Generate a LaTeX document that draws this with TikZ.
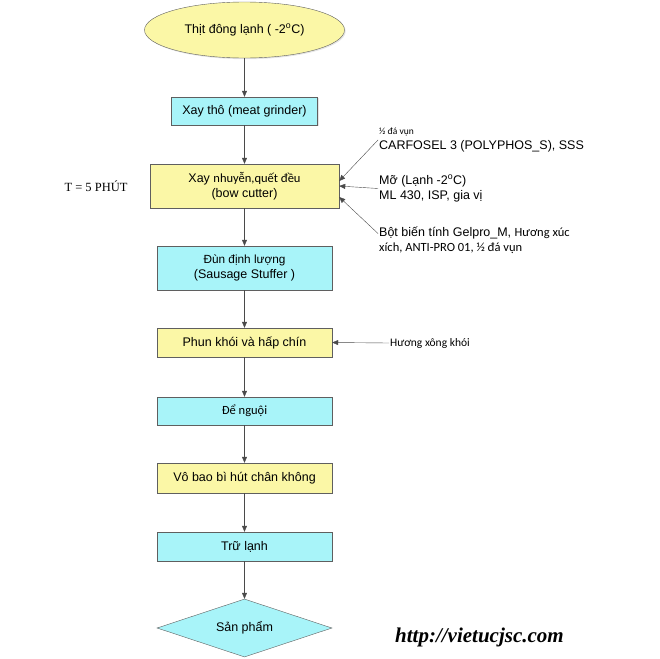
\documentclass[tikz,border=0pt]{standalone}
\usepackage{fontspec}
\setmainfont{Liberation Sans}
\newfontfamily\calibri{Carlito}
\newfontfamily\timesfont{Liberation Serif}
\usepackage{xcolor}
\usepackage{tikz}
\usetikzlibrary{arrows.meta}
\usetikzlibrary{shapes.geometric}
\usetikzlibrary{shadows}

\definecolor{boxcyan}{HTML}{A8F4F9}
\definecolor{boxyellow}{HTML}{FBF7A6}
\definecolor{edgegray}{HTML}{5F5F5F}
\definecolor{arrowgray}{HTML}{4A4A4A}

\begin{document}
\begin{tikzpicture}[
    x=1pt, y=-1pt, % Coordenadas en pixeles de la imagen
    font=\fontsize{12.5}{15}\selectfont, % Fuente de las etiquetas
    stepbox/.style={draw=edgegray, inner sep=0pt, align=center,
      minimum width=175pt, minimum height=29pt,
      drop shadow={shadow xshift=1.2pt, shadow yshift=-1.2pt, fill=black!20}}, % Cajas del proceso
    cyanbox/.style={stepbox, fill=boxcyan},
    yellowbox/.style={stepbox, fill=boxyellow},
    flow/.style={-{Triangle[length=6pt, width=5pt]}, draw=arrowgray, thin}, % Flechas
    addtext/.style={anchor=west, align=left, inner sep=1pt} % Textos de los aditivos
]
    \useasboundingbox (0,0) rectangle (659,659);

    % --- Pasos del proceso ---
    \node[ellipse, draw=edgegray, fill=boxyellow, minimum width=200pt, minimum height=56pt,
      drop shadow={shadow xshift=1.2pt, shadow yshift=-1.2pt, fill=black!20}]
      (frozen) at (244.5,30) {Thịt đông lạnh ( -2\textsuperscript{o}C)};
    \node[cyanbox, minimum width=146pt, minimum height=28pt] (grind) at (244.5,111) {Xay thô (meat grinder)};
    \node[yellowbox, minimum width=189pt, minimum height=44pt] (cutter) at (244.5,186)
      {Xay {\calibri nhuyễn,quết đều}\\(bow cutter)};
    \node[cyanbox, minimum height=44pt] (stuff) at (244.5,268)
      {{\fontsize{11.8}{15}\selectfont Đùn định lượng}\\(Sausage Stuffer )};
    \node[yellowbox] (smoke) at (244.5,342.5) {Phun khói và hấp chín};
    \node[cyanbox, minimum height=28pt] (cool) at (244.5,411) {\calibri Để nguội};
    \node[yellowbox, minimum height=30pt] (pack) at (244.5,478) {Vô bao bì hút chân không};
    \node[cyanbox] (store) at (244.5,546.5) {Trữ lạnh};
    \node[diamond, draw=edgegray, fill=boxcyan, inner sep=0pt, aspect=3,
      minimum width=175pt, minimum height=58pt] (product) at (244.5,628) {Sản phẩm};

    % --- Flechas entre pasos ---
    \draw[flow] (frozen) -- (grind);
    \draw[flow] (grind) -- (cutter);
    \draw[flow] (cutter) -- (stuff);
    \draw[flow] (stuff) -- (smoke);
    \draw[flow] (smoke) -- (cool);
    \draw[flow] (cool) -- (pack);
    \draw[flow] (pack) -- (store);
    \draw[flow] (store) -- (product);

    % --- Tiempo de mezclado ---
    \node[font=\timesfont\fontsize{12.5}{15}\selectfont] (time) at (96,186) {T = 5 PHÚT};

    % --- Aditivos ---
    \node[addtext] (add1) at (378,140)
      {{\calibri\fontsize{9.5}{11}\selectfont ½ đá vụn}\\CARFOSEL 3 (POLYPHOS\_S), SSS};
    \node[addtext] (add2) at (378,188.5) {Mỡ (Lạnh -2\textsuperscript{o}C)\\ML 430, ISP, gia vị};
    \node[addtext] (add3) at (378,240.5)
      {Bột biến tính Gelpro\_M, {\calibri Hương xúc}\\{\calibri xích, ANTI-PRO 01, ½ đá vụn}};
    \node[addtext, font=\calibri\fontsize{11.5}{14}\selectfont] (smell) at (389,343) {Hương xông khói};

    \draw[flow] (add1.west) -- ([yshift=5pt]cutter.east);
    \draw[flow] (add2.west) -- (cutter.east);
    \draw[flow] ([yshift=7pt]add3.west) -- ([yshift=-11pt]cutter.east);
    \draw[flow] (smell.west) -- (smoke.east);

    % --- Sitio web ---
    \node[font=\timesfont\bfseries\itshape\fontsize{21}{25}\selectfont] (site) at (479.5,637) {http://vietucjsc.com};

\end{tikzpicture}
\end{document}
